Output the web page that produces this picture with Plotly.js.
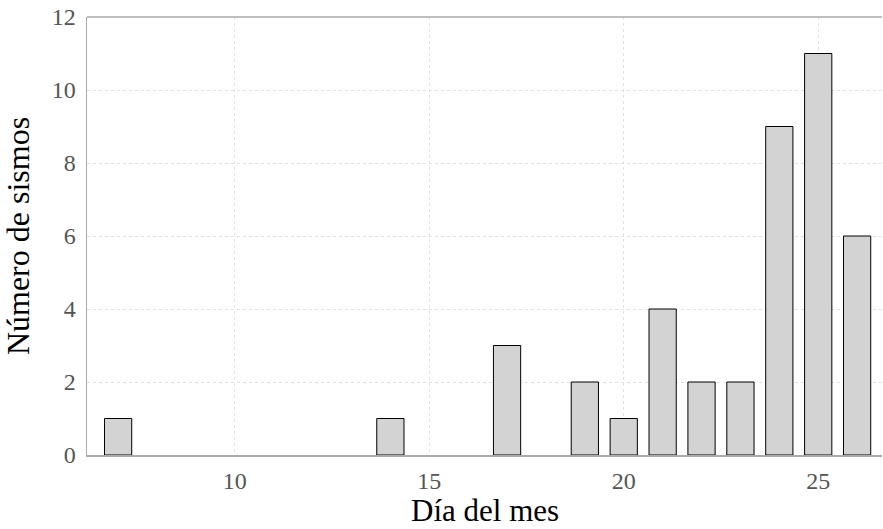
<!DOCTYPE html>
<html>
<head>
<meta charset="utf-8">
<script src="https://cdn.plot.ly/plotly-3.0.1.min.js"></script>
<style>html,body{margin:0;padding:0;background:#fff;}#chart{width:883px;height:529px;}</style>
</head>
<body>
<div id="chart"></div>
<script>
const days = [7, 14, 17, 19, 20, 21, 22, 23, 24, 25, 26];
const counts = [1, 1, 3, 2, 1, 4, 2, 2, 9, 11, 6];
const xTicks = [10, 15, 20, 25];
const yTicks = [0, 2, 4, 6, 8, 10, 12];
const xTitle = 'Día del mes';
const yTitle = 'Número de sismos';

const FONT = 'Liberation Serif, DejaVu Serif, serif';

const trace = {
  type: 'bar',
  x: days,
  y: counts,
  width: 0.7,
  marker: {color: '#d3d3d3', line: {color: '#000', width: 1}},
  hoverinfo: 'x+y'
};

const layout = {
  width: 883, height: 529,
  margin: {l: 87, r: 1, t: 17, b: 74},
  paper_bgcolor: '#fff', plot_bgcolor: '#fff',
  showlegend: false,
  font: {family: FONT, color: '#555'},
  xaxis: {
    range: [6.2, 26.64],
    tickvals: xTicks,
    ticktext: xTicks.map(String),
    showgrid: true, gridcolor: '#e2e2e2', griddash: 'dot', gridwidth: 1,
    zeroline: false,
    showline: true, linecolor: '#aaa', linewidth: 1.5,
    ticks: 'outside', ticklen: 4, tickcolor: 'rgba(0,0,0,0)',
    tickfont: {family: FONT, size: 24, color: '#555'}
  },
  yaxis: {
    range: [0, 12],
    tickvals: yTicks,
    ticktext: yTicks.map(String),
    showgrid: true, gridcolor: '#e2e2e2', griddash: 'dot', gridwidth: 1,
    zeroline: false,
    showline: true, linecolor: '#aaa', linewidth: 1.5,
    ticks: 'outside', ticklen: 5, tickcolor: 'rgba(0,0,0,0)',
    tickfont: {family: FONT, size: 24, color: '#555'},
    title: {text: yTitle, font: {family: FONT, size: 32, color: '#000'}, standoff: 12}
  },
  annotations: [{
    text: xTitle, xref: 'paper', yref: 'paper', x: 0.5, y: 0,
    xanchor: 'center', yanchor: 'bottom', yshift: -74, borderpad: 0, showarrow: false,
    font: {family: FONT, size: 31, color: '#000'}
  }],
  shapes: [{
    type: 'line', xref: 'paper', yref: 'paper',
    x0: 0, x1: 1, y0: 1, y1: 1,
    line: {color: '#aaa', width: 1.5}
  }]
};

Plotly.newPlot('chart', [trace], layout, {displayModeBar: false, staticPlot: true});
</script>
</body>
</html>
